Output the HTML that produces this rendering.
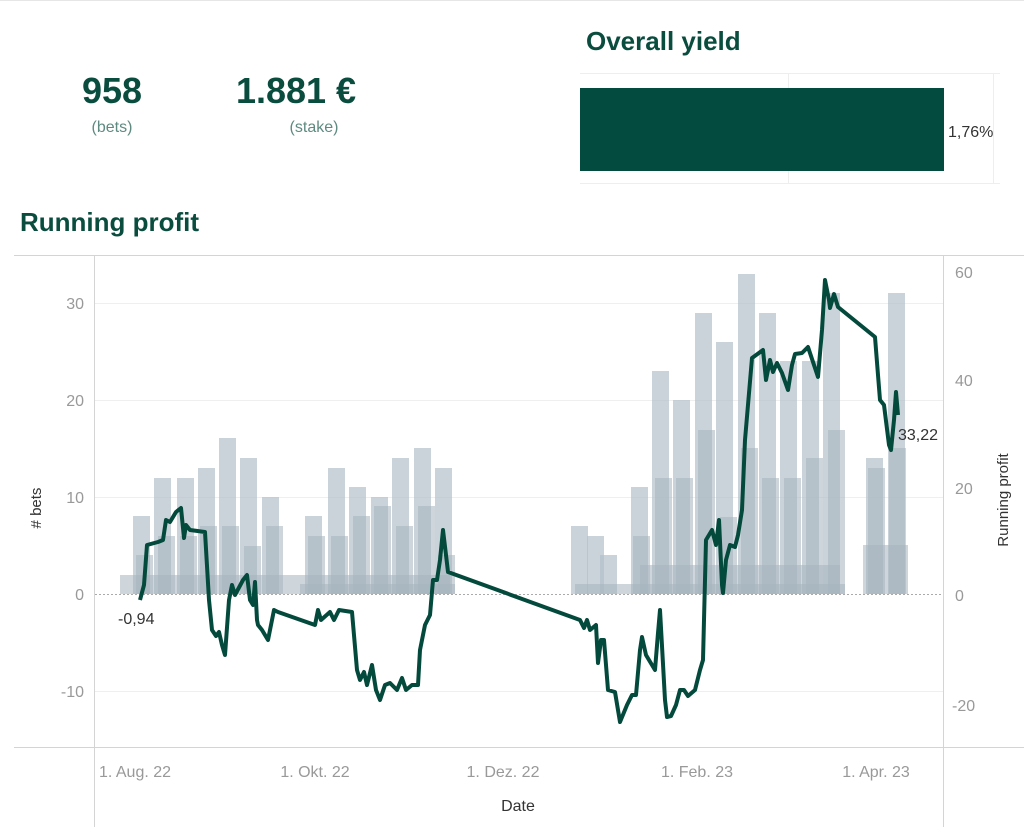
<!DOCTYPE html>
<html><head><meta charset="utf-8"><style>
body{margin:0;background:#fff;width:1024px;height:833px;overflow:hidden;font-family:"Liberation Sans",sans-serif}
</style></head><body>
<svg width="1024" height="833" xmlns="http://www.w3.org/2000/svg" font-family="Liberation Sans, sans-serif">
<rect width="1024" height="833" fill="#fff"/>
<line x1="0" y1="0.5" x2="1024" y2="0.5" stroke="#e6e6e6"/>
<text x="112" y="103" text-anchor="middle" font-size="36" font-weight="bold" fill="#0a4d3f">958</text>
<text x="112" y="132" text-anchor="middle" font-size="16" fill="#5f8a80">(bets)</text>
<text x="296" y="103" text-anchor="middle" font-size="36" font-weight="bold" fill="#0a4d3f">1.881 €</text>
<text x="314" y="132" text-anchor="middle" font-size="16" fill="#5f8a80">(stake)</text>
<text x="586" y="50" font-size="26" font-weight="bold" fill="#0a4d3f">Overall yield</text>
<line x1="580" y1="73.5" x2="1000" y2="73.5" stroke="#eee"/>
<line x1="580" y1="183.5" x2="1000" y2="183.5" stroke="#eee"/>
<line x1="788.5" y1="73" x2="788.5" y2="183" stroke="#eee"/>
<line x1="993.5" y1="73" x2="993.5" y2="183" stroke="#eee"/>
<rect x="580" y="88" width="364" height="83" fill="#024b3e"/>
<text x="948" y="137" font-size="16" fill="#333">1,76%</text>
<text x="20" y="231" font-size="26" font-weight="bold" fill="#0a4d3f">Running profit</text>
<!-- frame -->
<g stroke="#d4d4d4" fill="none">
<line x1="14" y1="255.5" x2="1024" y2="255.5"/>
<line x1="14" y1="747.5" x2="1024" y2="747.5"/>
<line x1="94.5" y1="255" x2="94.5" y2="827"/>
<line x1="943.5" y1="255" x2="943.5" y2="827"/>
</g>
<g stroke="#efefef">
<line x1="95" y1="303.5" x2="943" y2="303.5"/>
<line x1="95" y1="400.5" x2="943" y2="400.5"/>
<line x1="95" y1="497.5" x2="943" y2="497.5"/>
<line x1="95" y1="691.5" x2="943" y2="691.5"/>
</g>
<g font-size="16" fill="#999" text-anchor="end">
<text x="84" y="309">30</text><text x="84" y="406">20</text><text x="84" y="503">10</text><text x="84" y="600">0</text><text x="84" y="697">-10</text>
</g>
<g font-size="16" fill="#999" text-anchor="start">
<text x="955" y="278">60</text><text x="955" y="386">40</text><text x="955" y="494">20</text><text x="955" y="601">0</text><text x="952" y="711">-20</text>
</g>
<text transform="translate(41,508) rotate(-90)" text-anchor="middle" font-size="15" fill="#333"># bets</text>
<text transform="translate(1008,500) rotate(-90)" text-anchor="middle" font-size="15" fill="#333">Running profit</text>
<g font-size="16" fill="#999" text-anchor="middle">
<text x="135" y="777">1. Aug. 22</text><text x="315" y="777">1. Okt. 22</text><text x="503" y="777">1. Dez. 22</text><text x="697" y="777">1. Feb. 23</text><text x="876" y="777">1. Apr. 23</text>
</g>
<text x="518" y="811" text-anchor="middle" font-size="16" fill="#333">Date</text>
<g id="bars" fill="#b4c1ca" fill-opacity="0.7">
<rect x="133" y="516" width="17" height="78"/><rect x="154" y="478" width="17" height="116"/><rect x="177" y="478" width="17" height="116"/><rect x="198" y="468" width="17" height="126"/><rect x="219" y="438" width="17" height="156"/><rect x="240" y="458" width="17" height="136"/><rect x="262" y="497" width="17" height="97"/>
<rect x="305" y="516" width="17" height="78"/><rect x="328" y="468" width="17" height="126"/><rect x="349" y="487" width="17" height="107"/><rect x="371" y="497" width="17" height="97"/><rect x="392" y="458" width="17" height="136"/><rect x="414" y="448" width="17" height="146"/><rect x="435" y="468" width="17" height="126"/>
<rect x="571" y="526" width="17" height="68"/><rect x="587" y="536" width="17" height="58"/><rect x="600" y="555" width="17" height="39"/><rect x="631" y="487" width="17" height="107"/><rect x="652" y="371" width="17" height="223"/><rect x="673" y="400" width="17" height="194"/><rect x="695" y="313" width="17" height="281"/><rect x="716" y="342" width="17" height="252"/><rect x="738" y="274" width="17" height="320"/><rect x="759" y="313" width="17" height="281"/><rect x="780" y="361" width="17" height="233"/><rect x="802" y="361" width="17" height="233"/><rect x="823" y="293" width="17" height="301"/><rect x="866" y="458" width="17" height="136"/><rect x="888" y="293" width="17" height="301"/>
</g>
<g fill="#a6b4be" fill-opacity="0.55">
<rect x="136" y="555" width="17" height="39"/><rect x="158" y="536" width="17" height="58"/><rect x="180" y="536" width="17" height="58"/><rect x="200" y="526" width="17" height="68"/><rect x="222" y="526" width="17" height="68"/><rect x="244" y="546" width="17" height="48"/><rect x="266" y="526" width="17" height="68"/>
<rect x="308" y="536" width="17" height="58"/><rect x="331" y="536" width="17" height="58"/><rect x="353" y="516" width="17" height="78"/><rect x="374" y="506" width="17" height="88"/><rect x="396" y="526" width="17" height="68"/><rect x="418" y="506" width="17" height="88"/><rect x="438" y="555" width="17" height="39"/>
<rect x="633" y="536" width="17" height="58"/><rect x="655" y="478" width="17" height="116"/><rect x="676" y="478" width="17" height="116"/><rect x="698" y="430" width="17" height="164"/><rect x="720" y="517" width="17" height="77"/><rect x="741" y="448" width="17" height="146"/><rect x="762" y="478" width="17" height="116"/><rect x="784" y="478" width="17" height="116"/><rect x="806" y="458" width="17" height="136"/><rect x="828" y="430" width="17" height="164"/><rect x="868" y="468" width="17" height="126"/><rect x="889" y="448" width="17" height="146"/>
<rect x="120" y="575" width="330" height="19"/><rect x="300" y="584" width="155" height="10"/><rect x="575" y="584" width="270" height="10"/><rect x="640" y="565" width="200" height="29"/><rect x="863" y="545" width="45" height="49"/>
</g>
<line x1="95" y1="594.5" x2="943" y2="594.5" stroke="#aaa" stroke-dasharray="2,2"/>
<polyline fill="none" stroke="#044a3c" stroke-width="4" stroke-linejoin="round" points="140,600 144,585 147,545 158,542 163,540 166,520 170,522 176,512 181,508 184,538 186,525 190,530 205,532 209,600 212,630 216,636 219,632 222,645 225,655 229,600 232,585 235,595 243,580 247,575 250,600 253,605 255,582 257,620 258,625 262,630 268,640 272,620 274,610 278,612 315,625 318,610 321,620 330,612 334,620 339,610 352,612 357,670 360,680 364,672 367,685 372,665 376,690 380,700 385,685 390,683 397,690 402,678 406,690 412,685 418,685 420,650 425,625 430,615 433,580 437,580 440,560 443,530 446,555 448,572 580,620 584,628 587,620 590,630 596,625 598,663 601,640 604,640 608,690 615,692 620,722 627,705 632,695 636,695 640,650 642,637 646,655 655,670 658,633 660,610 665,700 667,717 671,716 676,705 680,690 684,690 688,696 695,690 700,670 703,660 706,540 712,530 716,545 719,520 722,585 723,593 726,560 730,545 735,547 738,535 742,510 745,440 752,358 763,350 766,380 770,360 773,372 777,363 782,373 788,390 792,365 795,354 802,353 808,347 814,365 818,377 822,330 825,280 829,300 830,308 834,294 838,307 875,337 878,375 880,400 884,405 889,445 891,450 894,420 896,392 898,415"/>
<text x="118" y="624" font-size="16" fill="#333">-0,94</text>
<text x="898" y="440" font-size="16" fill="#333">33,22</text>
</svg>
</body></html>
